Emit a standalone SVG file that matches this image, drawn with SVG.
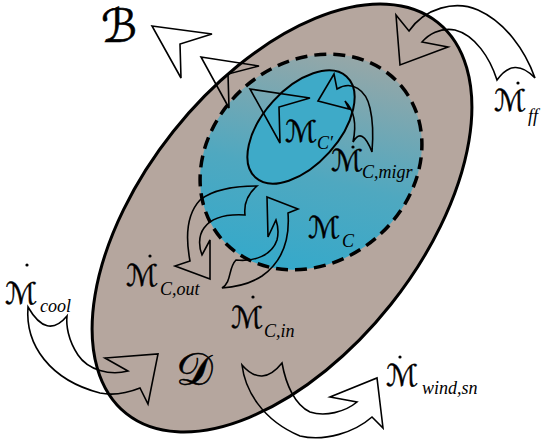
<svg xmlns="http://www.w3.org/2000/svg" width="542" height="440" viewBox="0 0 542 440">
<defs>
<linearGradient id="gC" gradientUnits="userSpaceOnUse" x1="215" y1="235" x2="405" y2="95">
<stop offset="0" stop-color="#33a9cb"/>
<stop offset="0.45" stop-color="#4fa8c0"/>
<stop offset="1" stop-color="#98a7a7"/>
</linearGradient>
<style>
.arr{fill:none;stroke:#000;stroke-width:1.6;stroke-linejoin:miter}
.m{font-family:"DejaVu Sans",serif;font-size:30px;fill:#000;stroke:#000;stroke-width:0.4}
.s{font-family:"Liberation Serif",serif;font-style:italic;font-size:18px;fill:#000}
.big{font-family:"DejaVu Serif","DejaVu Sans",serif;font-size:46px;fill:#000;stroke:#000;stroke-width:0.6}
.dot{fill:#000}
</style>
</defs>
<g id="region-D">
<ellipse cx="282" cy="218" rx="250" ry="139" transform="rotate(-51.5 282 218)" fill="#b5a69e" stroke="#000" stroke-width="3"/>
</g>
<g id="region-MC">
<ellipse cx="311" cy="162" rx="118" ry="100" transform="rotate(-40 311 162)" fill="url(#gC)" stroke="#000" stroke-width="3.5" stroke-dasharray="12 7"/>
</g>
<g id="region-MCp">
<ellipse cx="301" cy="127" rx="68" ry="38" transform="rotate(-48 301 127)" fill="#3eaac8" stroke="#000" stroke-width="2"/>
</g>
<g id="connectors">
<path class="arr" d="M152,26 L212,34 L180,44 L181,78 Z"/>
<path class="arr" d="M201,57 L259,66 L228,74 L229,108 Z"/>
<path class="arr" d="M250,89 L310,98 L279,107 L280,143 Z"/>
<path class="arr" d="M318,101 L334,74 L337,89 C352,80 366,90 370,108 C374,125 373,140 372,152 Q362,126 353,142 C356,128 356,112 345,101 L349,109 Z"/>
<path class="arr" d="M400,65 L396,15 L409,31 C425,8 455,0 478,10 C505,22 525,50 535,78 Q514,56 497,80 C490,58 475,35 455,30 C440,27 428,35 422,42 L448,47 Z"/>
<path class="arr" d="M28,307 C25,345 50,380 100,393 C115,396 130,392 140,388 L148,404 L158,354 L105,358 L128,371 C110,376 88,370 78,355 C68,340 66,325 67,316 Q47,340 28,307 Z"/>
<path class="arr" d="M242,365 C245,390 262,420 300,436 C325,442 355,432 372,417 L383,428 L377,378 L330,397 L357,402 C345,412 325,417 310,412 C295,405 286,385 282,363 Q262,388 242,365 Z"/>
<path class="arr" d="M267,197 L298,209 L288,213 C290,240 282,262 262,276 C250,284 235,287 222,288 C232,282 228,268 236,260 C255,262 272,255 277,240 C279,232 278,226 276,220 L268,237 Z"/>
<path class="arr" d="M210,279 L175,266 L190,261 C186,240 186,215 200,200 C212,190 235,186 257,186 Q243,198 245,215 C228,214 212,217 204,228 C198,236 199,248 202,255 L210,240 Z"/>
</g>
<g id="label-B"><text class="big" x="101" y="42" font-size="40">ℬ</text></g>
<g id="label-D"><text class="big" x="176" y="385">𝒟</text></g>
<g id="label-MCp"><text class="m" x="285" y="142">ℳ</text><text class="s" x="317" y="149" font-size="17">C′</text></g>
<g id="label-MCmigr"><circle class="dot" cx="353" cy="147" r="1.6"/><text class="m" x="331" y="171">ℳ</text><text class="s" x="362" y="178">C,migr</text></g>
<g id="label-MC"><text class="m" x="308" y="238">ℳ</text><text class="s" x="342" y="247">C</text></g>
<g id="label-Mff"><circle class="dot" cx="518" cy="83" r="1.6"/><text class="m" x="494" y="111">ℳ</text><text class="s" x="528" y="122">ff</text></g>
<g id="label-Mcool"><circle class="dot" cx="27" cy="265" r="1.6"/><text class="m" x="5" y="304">ℳ</text><text class="s" x="40" y="312">cool</text></g>
<g id="label-MCout"><circle class="dot" cx="150" cy="256" r="1.6"/><text class="m" x="126" y="286">ℳ</text><text class="s" x="160" y="295">C,out</text></g>
<g id="label-MCin"><circle class="dot" cx="253" cy="297" r="1.6"/><text class="m" x="231" y="328">ℳ</text><text class="s" x="264" y="337">C,in</text></g>
<g id="label-Mwind"><circle class="dot" cx="400" cy="357" r="1.6"/><text class="m" x="386" y="386">ℳ</text><text class="s" x="422" y="394">wind,sn</text></g>
</svg>
